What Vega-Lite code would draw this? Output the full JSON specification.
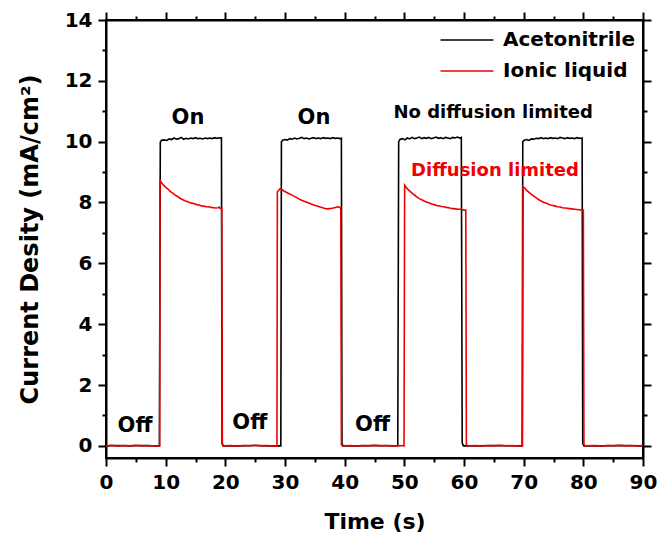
{
  "$schema": "https://vega.github.io/schema/vega-lite/v6.json",
  "width": 537,
  "height": 438,
  "autosize": {"type": "none"},
  "padding": {"left": 106, "top": 20, "right": 16, "bottom": 81},
  "background": "white",
  "config": {
    "view": {"stroke": "black", "strokeWidth": 2},
    "font": "DejaVu Sans",
    "axis": {
      "grid": false,
      "domainColor": "black",
      "domainWidth": 2,
      "tickColor": "black",
      "tickWidth": 2,
      "labelFont": "DejaVu Sans",
      "labelFontWeight": "bold",
      "labelFontSize": 20,
      "labelColor": "black",
      "titleFont": "DejaVu Sans",
      "titleFontWeight": "bold",
      "titleColor": "black"
    }
  },
  "resolve": {"axis": {"x": "independent", "y": "independent"}},
  "layer": [
    {
      "data": {"values": [
        {"t":0,"j":0,"s":"Acetonitrile"},{"t":2,"j":0.01,"s":"Acetonitrile"},{"t":4,"j":0,"s":"Acetonitrile"},{"t":6,"j":0.01,"s":"Acetonitrile"},{"t":8,"j":0,"s":"Acetonitrile"},{"t":8.95,"j":0,"s":"Acetonitrile"},
        {"t":9.1,"j":9.98,"s":"Acetonitrile"},{"t":9.3,"j":10.05,"s":"Acetonitrile"},{"t":9.7,"j":10.06,"s":"Acetonitrile"},{"t":10.2,"j":10.04,"s":"Acetonitrile"},{"t":10.6,"j":10.09,"s":"Acetonitrile"},{"t":11,"j":10.07,"s":"Acetonitrile"},{"t":11.4,"j":10.12,"s":"Acetonitrile"},{"t":11.8,"j":10.08,"s":"Acetonitrile"},{"t":12.2,"j":10.1,"s":"Acetonitrile"},{"t":12.6,"j":10.14,"s":"Acetonitrile"},{"t":13,"j":10.08,"s":"Acetonitrile"},{"t":13.4,"j":10.11,"s":"Acetonitrile"},{"t":13.8,"j":10.09,"s":"Acetonitrile"},{"t":14.2,"j":10.12,"s":"Acetonitrile"},{"t":14.6,"j":10.1,"s":"Acetonitrile"},{"t":15,"j":10.13,"s":"Acetonitrile"},{"t":15.4,"j":10.1,"s":"Acetonitrile"},{"t":15.8,"j":10.11,"s":"Acetonitrile"},{"t":16.2,"j":10.09,"s":"Acetonitrile"},{"t":16.6,"j":10.12,"s":"Acetonitrile"},{"t":17,"j":10.1,"s":"Acetonitrile"},{"t":17.4,"j":10.12,"s":"Acetonitrile"},{"t":17.8,"j":10.1,"s":"Acetonitrile"},{"t":18.2,"j":10.13,"s":"Acetonitrile"},{"t":18.6,"j":10.11,"s":"Acetonitrile"},{"t":19,"j":10.13,"s":"Acetonitrile"},{"t":19.35,"j":10.12,"s":"Acetonitrile"},
        {"t":19.45,"j":0.1,"s":"Acetonitrile"},{"t":19.6,"j":0,"s":"Acetonitrile"},{"t":22,"j":0,"s":"Acetonitrile"},{"t":25,"j":0.01,"s":"Acetonitrile"},{"t":27,"j":0,"s":"Acetonitrile"},{"t":29.3,"j":0,"s":"Acetonitrile"},
        {"t":29.4,"j":10.0,"s":"Acetonitrile"},{"t":29.6,"j":10.05,"s":"Acetonitrile"},{"t":30,"j":10.07,"s":"Acetonitrile"},{"t":30.4,"j":10.05,"s":"Acetonitrile"},{"t":30.8,"j":10.1,"s":"Acetonitrile"},{"t":31.2,"j":10.08,"s":"Acetonitrile"},{"t":31.6,"j":10.12,"s":"Acetonitrile"},{"t":32,"j":10.09,"s":"Acetonitrile"},{"t":32.4,"j":10.11,"s":"Acetonitrile"},{"t":32.8,"j":10.14,"s":"Acetonitrile"},{"t":33.2,"j":10.1,"s":"Acetonitrile"},{"t":33.6,"j":10.12,"s":"Acetonitrile"},{"t":34,"j":10.09,"s":"Acetonitrile"},{"t":34.4,"j":10.11,"s":"Acetonitrile"},{"t":34.8,"j":10.13,"s":"Acetonitrile"},{"t":35.2,"j":10.1,"s":"Acetonitrile"},{"t":35.6,"j":10.12,"s":"Acetonitrile"},{"t":36,"j":10.1,"s":"Acetonitrile"},{"t":36.4,"j":10.13,"s":"Acetonitrile"},{"t":36.8,"j":10.11,"s":"Acetonitrile"},{"t":37.2,"j":10.12,"s":"Acetonitrile"},{"t":37.6,"j":10.1,"s":"Acetonitrile"},{"t":38,"j":10.13,"s":"Acetonitrile"},{"t":38.4,"j":10.11,"s":"Acetonitrile"},{"t":38.8,"j":10.12,"s":"Acetonitrile"},{"t":39.2,"j":10.1,"s":"Acetonitrile"},{"t":39.45,"j":10.11,"s":"Acetonitrile"},
        {"t":39.55,"j":0.08,"s":"Acetonitrile"},{"t":39.7,"j":0,"s":"Acetonitrile"},{"t":42,"j":0,"s":"Acetonitrile"},{"t":45,"j":0.01,"s":"Acetonitrile"},{"t":48.9,"j":0,"s":"Acetonitrile"},
        {"t":49.05,"j":10.0,"s":"Acetonitrile"},{"t":49.3,"j":10.08,"s":"Acetonitrile"},{"t":49.7,"j":10.1,"s":"Acetonitrile"},{"t":50.1,"j":10.06,"s":"Acetonitrile"},{"t":50.5,"j":10.12,"s":"Acetonitrile"},{"t":50.9,"j":10.09,"s":"Acetonitrile"},{"t":51.3,"j":10.14,"s":"Acetonitrile"},{"t":51.7,"j":10.1,"s":"Acetonitrile"},{"t":52.1,"j":10.12,"s":"Acetonitrile"},{"t":52.5,"j":10.15,"s":"Acetonitrile"},{"t":52.9,"j":10.1,"s":"Acetonitrile"},{"t":53.3,"j":10.13,"s":"Acetonitrile"},{"t":53.7,"j":10.11,"s":"Acetonitrile"},{"t":54.1,"j":10.14,"s":"Acetonitrile"},{"t":54.5,"j":10.1,"s":"Acetonitrile"},{"t":54.9,"j":10.12,"s":"Acetonitrile"},{"t":55.3,"j":10.15,"s":"Acetonitrile"},{"t":55.7,"j":10.11,"s":"Acetonitrile"},{"t":56.1,"j":10.13,"s":"Acetonitrile"},{"t":56.5,"j":10.1,"s":"Acetonitrile"},{"t":56.9,"j":10.14,"s":"Acetonitrile"},{"t":57.3,"j":10.12,"s":"Acetonitrile"},{"t":57.7,"j":10.1,"s":"Acetonitrile"},{"t":58.1,"j":10.14,"s":"Acetonitrile"},{"t":58.5,"j":10.12,"s":"Acetonitrile"},{"t":58.9,"j":10.15,"s":"Acetonitrile"},{"t":59.3,"j":10.12,"s":"Acetonitrile"},{"t":59.55,"j":10.14,"s":"Acetonitrile"},
        {"t":59.7,"j":0.1,"s":"Acetonitrile"},{"t":59.9,"j":0,"s":"Acetonitrile"},{"t":62,"j":0,"s":"Acetonitrile"},{"t":65,"j":0.01,"s":"Acetonitrile"},{"t":69.75,"j":0,"s":"Acetonitrile"},
        {"t":69.85,"j":10.0,"s":"Acetonitrile"},{"t":70.1,"j":10.05,"s":"Acetonitrile"},{"t":70.5,"j":10.07,"s":"Acetonitrile"},{"t":70.9,"j":10.04,"s":"Acetonitrile"},{"t":71.3,"j":10.09,"s":"Acetonitrile"},{"t":71.7,"j":10.08,"s":"Acetonitrile"},{"t":72.1,"j":10.11,"s":"Acetonitrile"},{"t":72.5,"j":10.1,"s":"Acetonitrile"},{"t":72.9,"j":10.13,"s":"Acetonitrile"},{"t":73.3,"j":10.1,"s":"Acetonitrile"},{"t":73.7,"j":10.12,"s":"Acetonitrile"},{"t":74.1,"j":10.1,"s":"Acetonitrile"},{"t":74.5,"j":10.13,"s":"Acetonitrile"},{"t":74.9,"j":10.11,"s":"Acetonitrile"},{"t":75.3,"j":10.12,"s":"Acetonitrile"},{"t":75.7,"j":10.1,"s":"Acetonitrile"},{"t":76.1,"j":10.14,"s":"Acetonitrile"},{"t":76.5,"j":10.12,"s":"Acetonitrile"},{"t":76.9,"j":10.1,"s":"Acetonitrile"},{"t":77.3,"j":10.13,"s":"Acetonitrile"},{"t":77.7,"j":10.11,"s":"Acetonitrile"},{"t":78.1,"j":10.12,"s":"Acetonitrile"},{"t":78.5,"j":10.1,"s":"Acetonitrile"},{"t":78.9,"j":10.13,"s":"Acetonitrile"},{"t":79.3,"j":10.11,"s":"Acetonitrile"},{"t":79.8,"j":10.12,"s":"Acetonitrile"},
        {"t":79.9,"j":0.08,"s":"Acetonitrile"},{"t":80.1,"j":0,"s":"Acetonitrile"},{"t":83,"j":0,"s":"Acetonitrile"},{"t":86,"j":0.01,"s":"Acetonitrile"},{"t":90,"j":0,"s":"Acetonitrile"},

        {"t":0,"j":0,"s":"Ionic liquid"},{"t":1,"j":0.02,"s":"Ionic liquid"},{"t":2,"j":-0.01,"s":"Ionic liquid"},{"t":3,"j":0.01,"s":"Ionic liquid"},{"t":4,"j":0,"s":"Ionic liquid"},{"t":5,"j":0.02,"s":"Ionic liquid"},{"t":6,"j":0,"s":"Ionic liquid"},{"t":7,"j":0.01,"s":"Ionic liquid"},{"t":8,"j":-0.01,"s":"Ionic liquid"},{"t":9.0,"j":0,"s":"Ionic liquid"},
        {"t":9.05,"j":8.73,"s":"Ionic liquid"},{"t":9.3,"j":8.66,"s":"Ionic liquid"},{"t":9.6,"j":8.58,"s":"Ionic liquid"},{"t":10,"j":8.5,"s":"Ionic liquid"},{"t":10.4,"j":8.44,"s":"Ionic liquid"},{"t":10.8,"j":8.36,"s":"Ionic liquid"},{"t":11.2,"j":8.31,"s":"Ionic liquid"},{"t":11.6,"j":8.24,"s":"Ionic liquid"},{"t":12,"j":8.2,"s":"Ionic liquid"},{"t":12.4,"j":8.14,"s":"Ionic liquid"},{"t":12.8,"j":8.1,"s":"Ionic liquid"},{"t":13.2,"j":8.06,"s":"Ionic liquid"},{"t":13.6,"j":8.03,"s":"Ionic liquid"},{"t":14,"j":8.0,"s":"Ionic liquid"},{"t":14.4,"j":7.98,"s":"Ionic liquid"},{"t":14.8,"j":7.96,"s":"Ionic liquid"},{"t":15.2,"j":7.93,"s":"Ionic liquid"},{"t":15.6,"j":7.92,"s":"Ionic liquid"},{"t":16,"j":7.89,"s":"Ionic liquid"},{"t":16.4,"j":7.88,"s":"Ionic liquid"},{"t":16.8,"j":7.86,"s":"Ionic liquid"},{"t":17.2,"j":7.86,"s":"Ionic liquid"},{"t":17.6,"j":7.84,"s":"Ionic liquid"},{"t":18,"j":7.83,"s":"Ionic liquid"},{"t":18.4,"j":7.82,"s":"Ionic liquid"},{"t":18.8,"j":7.83,"s":"Ionic liquid"},{"t":19.0,"j":7.85,"s":"Ionic liquid"},{"t":19.15,"j":7.8,"s":"Ionic liquid"},{"t":19.4,"j":7.81,"s":"Ionic liquid"},
        {"t":19.5,"j":0.05,"s":"Ionic liquid"},{"t":19.7,"j":0,"s":"Ionic liquid"},{"t":21,"j":0.01,"s":"Ionic liquid"},{"t":22,"j":-0.01,"s":"Ionic liquid"},{"t":23,"j":0.01,"s":"Ionic liquid"},{"t":24,"j":0,"s":"Ionic liquid"},{"t":25,"j":0.02,"s":"Ionic liquid"},{"t":26,"j":0,"s":"Ionic liquid"},{"t":27,"j":0.01,"s":"Ionic liquid"},{"t":28,"j":-0.01,"s":"Ionic liquid"},{"t":28.65,"j":0,"s":"Ionic liquid"},
        {"t":28.72,"j":8.35,"s":"Ionic liquid"},{"t":28.85,"j":8.38,"s":"Ionic liquid"},{"t":29.2,"j":8.46,"s":"Ionic liquid"},{"t":29.5,"j":8.42,"s":"Ionic liquid"},{"t":29.9,"j":8.37,"s":"Ionic liquid"},{"t":30.3,"j":8.33,"s":"Ionic liquid"},{"t":30.7,"j":8.29,"s":"Ionic liquid"},{"t":31.1,"j":8.25,"s":"Ionic liquid"},{"t":31.5,"j":8.21,"s":"Ionic liquid"},{"t":31.9,"j":8.17,"s":"Ionic liquid"},{"t":32.3,"j":8.12,"s":"Ionic liquid"},{"t":32.7,"j":8.08,"s":"Ionic liquid"},{"t":33.1,"j":8.05,"s":"Ionic liquid"},{"t":33.5,"j":8.02,"s":"Ionic liquid"},{"t":33.9,"j":7.99,"s":"Ionic liquid"},{"t":34.3,"j":7.96,"s":"Ionic liquid"},{"t":34.7,"j":7.93,"s":"Ionic liquid"},{"t":35.1,"j":7.9,"s":"Ionic liquid"},{"t":35.5,"j":7.88,"s":"Ionic liquid"},{"t":35.9,"j":7.85,"s":"Ionic liquid"},{"t":36.3,"j":7.83,"s":"Ionic liquid"},{"t":36.7,"j":7.8,"s":"Ionic liquid"},{"t":37.1,"j":7.79,"s":"Ionic liquid"},{"t":37.5,"j":7.8,"s":"Ionic liquid"},{"t":37.9,"j":7.81,"s":"Ionic liquid"},{"t":38.3,"j":7.83,"s":"Ionic liquid"},{"t":38.7,"j":7.85,"s":"Ionic liquid"},{"t":39.0,"j":7.86,"s":"Ionic liquid"},{"t":39.2,"j":7.83,"s":"Ionic liquid"},{"t":39.35,"j":7.83,"s":"Ionic liquid"},
        {"t":39.45,"j":0.05,"s":"Ionic liquid"},{"t":39.6,"j":0,"s":"Ionic liquid"},{"t":41,"j":0.01,"s":"Ionic liquid"},{"t":42,"j":-0.01,"s":"Ionic liquid"},{"t":43,"j":0.01,"s":"Ionic liquid"},{"t":44,"j":0,"s":"Ionic liquid"},{"t":45,"j":0.02,"s":"Ionic liquid"},{"t":46,"j":0,"s":"Ionic liquid"},{"t":47,"j":0.01,"s":"Ionic liquid"},{"t":48,"j":-0.01,"s":"Ionic liquid"},{"t":49,"j":0.01,"s":"Ionic liquid"},{"t":49.95,"j":0,"s":"Ionic liquid"},
        {"t":50.05,"j":8.57,"s":"Ionic liquid"},{"t":50.3,"j":8.5,"s":"Ionic liquid"},{"t":50.6,"j":8.43,"s":"Ionic liquid"},{"t":51,"j":8.36,"s":"Ionic liquid"},{"t":51.4,"j":8.29,"s":"Ionic liquid"},{"t":51.8,"j":8.23,"s":"Ionic liquid"},{"t":52.2,"j":8.17,"s":"Ionic liquid"},{"t":52.6,"j":8.12,"s":"Ionic liquid"},{"t":53,"j":8.08,"s":"Ionic liquid"},{"t":53.4,"j":8.04,"s":"Ionic liquid"},{"t":53.8,"j":8.01,"s":"Ionic liquid"},{"t":54.2,"j":7.98,"s":"Ionic liquid"},{"t":54.6,"j":7.95,"s":"Ionic liquid"},{"t":55,"j":7.93,"s":"Ionic liquid"},{"t":55.4,"j":7.9,"s":"Ionic liquid"},{"t":55.8,"j":7.89,"s":"Ionic liquid"},{"t":56.2,"j":7.87,"s":"Ionic liquid"},{"t":56.6,"j":7.86,"s":"Ionic liquid"},{"t":57,"j":7.84,"s":"Ionic liquid"},{"t":57.4,"j":7.83,"s":"Ionic liquid"},{"t":57.8,"j":7.81,"s":"Ionic liquid"},{"t":58.2,"j":7.8,"s":"Ionic liquid"},{"t":58.6,"j":7.79,"s":"Ionic liquid"},{"t":59,"j":7.78,"s":"Ionic liquid"},{"t":59.4,"j":7.78,"s":"Ionic liquid"},{"t":59.7,"j":7.77,"s":"Ionic liquid"},{"t":60.0,"j":7.75,"s":"Ionic liquid"},{"t":60.3,"j":7.75,"s":"Ionic liquid"},
        {"t":60.4,"j":0.05,"s":"Ionic liquid"},{"t":60.6,"j":0,"s":"Ionic liquid"},{"t":62,"j":0.01,"s":"Ionic liquid"},{"t":63,"j":-0.01,"s":"Ionic liquid"},{"t":64,"j":0.01,"s":"Ionic liquid"},{"t":65,"j":0,"s":"Ionic liquid"},{"t":66,"j":0.02,"s":"Ionic liquid"},{"t":67,"j":0,"s":"Ionic liquid"},{"t":68,"j":0.01,"s":"Ionic liquid"},{"t":69,"j":-0.01,"s":"Ionic liquid"},{"t":69.8,"j":0,"s":"Ionic liquid"},
        {"t":69.9,"j":8.53,"s":"Ionic liquid"},{"t":70.2,"j":8.47,"s":"Ionic liquid"},{"t":70.5,"j":8.4,"s":"Ionic liquid"},{"t":70.9,"j":8.33,"s":"Ionic liquid"},{"t":71.3,"j":8.27,"s":"Ionic liquid"},{"t":71.7,"j":8.21,"s":"Ionic liquid"},{"t":72.1,"j":8.15,"s":"Ionic liquid"},{"t":72.5,"j":8.1,"s":"Ionic liquid"},{"t":72.9,"j":8.05,"s":"Ionic liquid"},{"t":73.3,"j":8.01,"s":"Ionic liquid"},{"t":73.7,"j":7.98,"s":"Ionic liquid"},{"t":74.1,"j":7.95,"s":"Ionic liquid"},{"t":74.5,"j":7.92,"s":"Ionic liquid"},{"t":74.9,"j":7.9,"s":"Ionic liquid"},{"t":75.3,"j":7.88,"s":"Ionic liquid"},{"t":75.7,"j":7.86,"s":"Ionic liquid"},{"t":76.1,"j":7.85,"s":"Ionic liquid"},{"t":76.5,"j":7.83,"s":"Ionic liquid"},{"t":76.9,"j":7.82,"s":"Ionic liquid"},{"t":77.3,"j":7.81,"s":"Ionic liquid"},{"t":77.7,"j":7.8,"s":"Ionic liquid"},{"t":78.1,"j":7.79,"s":"Ionic liquid"},{"t":78.5,"j":7.78,"s":"Ionic liquid"},{"t":78.9,"j":7.77,"s":"Ionic liquid"},{"t":79.3,"j":7.76,"s":"Ionic liquid"},{"t":79.7,"j":7.75,"s":"Ionic liquid"},{"t":80.0,"j":7.75,"s":"Ionic liquid"},
        {"t":80.1,"j":0.05,"s":"Ionic liquid"},{"t":80.3,"j":0,"s":"Ionic liquid"},{"t":82,"j":0.01,"s":"Ionic liquid"},{"t":83,"j":-0.01,"s":"Ionic liquid"},{"t":84,"j":0.01,"s":"Ionic liquid"},{"t":85,"j":0,"s":"Ionic liquid"},{"t":86,"j":0.02,"s":"Ionic liquid"},{"t":87,"j":0,"s":"Ionic liquid"},{"t":88,"j":0.01,"s":"Ionic liquid"},{"t":89,"j":-0.01,"s":"Ionic liquid"},{"t":90,"j":0.02,"s":"Ionic liquid"}
      ]},
      "mark": {"type": "line", "strokeWidth": 1.6, "clip": true},
      "encoding": {
        "x": {
          "field": "t", "type": "quantitative",
          "scale": {"domain": [0, 90], "nice": false, "zero": false},
          "axis": {
            "orient": "bottom",
            "title": "Time (s)",
            "titleFontSize": 22,
            "titlePadding": 19,
            "values": [0,5,10,15,20,25,30,35,40,45,50,55,60,65,70,75,80,85,90],
            "labelExpr": "datum.value % 10 === 0 ? datum.label : ''",
            "tickSize": {"condition": {"test": "datum.value % 10 === 0", "value": 8}, "value": 4},
            "labelPadding": 6,
            "labelFlush": false,
            "labelOverlap": false
          }
        },
        "y": {
          "field": "j", "type": "quantitative",
          "scale": {"domain": [-0.4, 14], "nice": false, "zero": false},
          "axis": {
            "orient": "left",
            "title": "Current Desity (mA/cm²)",
            "titleFontSize": 24,
            "titlePadding": 22,
            "values": [0,1,2,3,4,5,6,7,8,9,10,11,12,13,14],
            "labelExpr": "datum.value % 2 === 0 ? datum.label : ''",
            "tickSize": {"condition": {"test": "datum.value % 2 === 0", "value": 8}, "value": 4},
            "labelPadding": 6,
            "labelFlush": false,
            "labelOverlap": false
          }
        },
        "color": {
          "field": "s", "type": "nominal",
          "scale": {"domain": ["Acetonitrile", "Ionic liquid"], "range": ["#000000", "#f00000"]},
          "legend": {
            "title": null,
            "orient": "none",
            "legendX": 350,
            "legendY": 9,
            "padding": 0,
            "symbolType": "M-2.65,0H2.65",
            "symbolSize": 400,
            "symbolStrokeWidth": 1.6,
            "labelFont": "DejaVu Sans",
            "labelFontWeight": "bold",
            "labelFontSize": 20,
            "labelColor": "black",
            "labelOffset": 25,
            "rowPadding": 10
          }
        }
      }
    },
    {
      "data": {"values": [
        {"t": 13.74, "j": 10.79, "txt": "On"},
        {"t": 34.86, "j": 10.79, "txt": "On"},
        {"t": 4.86, "j": 0.66, "txt": "Off"},
        {"t": 24.1, "j": 0.76, "txt": "Off"},
        {"t": 44.66, "j": 0.68, "txt": "Off"}
      ]},
      "mark": {"type": "text", "font": "DejaVu Sans", "fontWeight": "bold", "fontSize": 21, "color": "black", "align": "center", "baseline": "middle"},
      "encoding": {
        "x": {"field": "t", "type": "quantitative", "axis": {
          "orient": "top", "title": null, "labels": false,
          "values": [0,5,10,15,20,25,30,35,40,45,50,55,60,65,70,75,80,85,90],
          "tickSize": {"condition": {"test": "datum.value % 10 === 0", "value": 8}, "value": 4}
        }},
        "y": {"field": "j", "type": "quantitative", "axis": null},
        "text": {"field": "txt"}
      }
    },
    {
      "data": {"values": [{"t": 64.9, "j": 10.93, "txt": "No diffusion limited"}]},
      "mark": {"type": "text", "font": "DejaVu Sans", "fontWeight": "bold", "fontSize": 18, "color": "black", "align": "center", "baseline": "middle"},
      "encoding": {
        "x": {"field": "t", "type": "quantitative", "axis": null},
        "y": {"field": "j", "type": "quantitative", "axis": {
          "orient": "right", "title": null, "labels": false,
          "values": [0,1,2,3,4,5,6,7,8,9,10,11,12,13,14],
          "tickSize": {"condition": {"test": "datum.value % 2 === 0", "value": 8}, "value": 4}
        }},
        "text": {"field": "txt"}
      }
    },
    {
      "data": {"values": [{"t": 65.2, "j": 9.04, "txt": "Diffusion limited"}]},
      "mark": {"type": "text", "font": "DejaVu Sans", "fontWeight": "bold", "fontSize": 18, "color": "#f00000", "align": "center", "baseline": "middle"},
      "encoding": {
        "x": {"field": "t", "type": "quantitative", "axis": null},
        "y": {"field": "j", "type": "quantitative", "axis": null},
        "text": {"field": "txt"}
      }
    }
  ]
}
